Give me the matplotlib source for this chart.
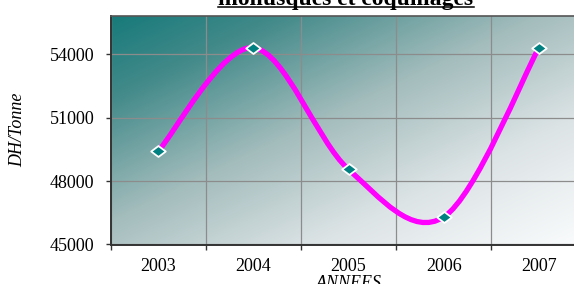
import matplotlib.pyplot as plt
import numpy as np
from matplotlib.colors import LinearSegmentedColormap
from matplotlib.lines import Line2D
from matplotlib.patches import PathPatch
from matplotlib.path import Path

annees = ['2003', '2004', '2005', '2006', '2007']
prix_tonne = [49400, 54300, 48550, 46300, 54300]
graduations_y = [45000, 48000, 51000, 54000]

plt.rcParams['font.family'] = ['Liberation Serif', 'DejaVu Serif']


def courbe_lissee(xs, ys):
    # lissage type Excel : segments de Bezier (Catmull-Rom)
    pts = [np.array(p, float) for p in zip(xs, ys)]
    pts = [pts[0]] + pts + [pts[-1]]
    verts = [tuple(pts[1])]
    codes = [Path.MOVETO]
    for i in range(1, len(pts) - 2):
        p0, p1, p2, p3 = pts[i - 1:i + 3]
        verts += [tuple(p1 + (p2 - p0) / 6), tuple(p2 - (p3 - p1) / 6), tuple(p2)]
        codes += [Path.CURVE4] * 3
    return Path(verts, codes)


fig = plt.figure(figsize=(5.74, 2.84), dpi=100)
ax = fig.add_axes([110.5 / 574, 39.5 / 284, 476 / 574, 228.5 / 284])

# fond en degrade diagonal
fond = LinearSegmentedColormap.from_list('fond', [
    (0.0, '#177a7a'), (0.18, '#438a8a'), (0.45, '#a3bcbc'),
    (0.72, '#dde4e6'), (1.0, '#fafcfd')])
gx, gy = np.meshgrid(np.linspace(0, 1, 400), np.linspace(0, 1, 200))
ax.imshow((gx + gy) / 2, cmap=fond, extent=(0, 1, 0, 1), transform=ax.transAxes,
          aspect='auto', origin='upper', zorder=0, interpolation='bilinear')

x = np.arange(len(annees))
ax.add_patch(PathPatch(courbe_lissee(x, prix_tonne), facecolor='none',
                       edgecolor='#ff00ff', lw=3.8, zorder=3, capstyle='round'))
losange = Path([(0, 0.75), (1, 0), (0, -0.75), (-1, 0), (0, 0.75)], closed=True)
ax.plot(x, prix_tonne, ls='none', marker=losange, ms=10.5, mfc='#008080',
        mec='white', mew=1.3, zorder=4)

ax.set_xlim(-0.5, 4.5)
ax.set_ylim(45000, 55800)
ax.set_xticks(np.arange(-0.5, 5, 1))
ax.set_xticklabels([])
ax.set_xticks(x, minor=True)
ax.set_xticklabels(annees, minor=True)
ax.set_yticks(graduations_y)
ax.set_yticklabels([str(v) for v in graduations_y])
ax.tick_params(axis='x', which='major', length=3.6, width=1, color='#333333')
ax.tick_params(axis='x', which='minor', length=0, pad=10, labelsize=13)
ax.tick_params(axis='y', length=3.6, width=1, color='#333333', pad=8, labelsize=13)

ax.set_axisbelow(True)
ax.grid(True, which='major', color='#8c8c8c', lw=0.9)
for cote in ['left', 'bottom']:
    ax.spines[cote].set_color('#333333')
    ax.spines[cote].set_linewidth(1.4)
ax.spines['top'].set_color('#555555')
ax.spines['top'].set_linewidth(1.2)

ax.set_ylabel('DH/Tonne', style='italic', fontsize=13)
ax.yaxis.set_label_coords(-0.178, 0.5)
ax.set_xlabel('ANNEES', style='italic', fontsize=13)
ax.xaxis.set_label_coords(0.5, -0.135)

titre = fig.text(346 / 574, 1 - 4.5 / 284, 'mollusques et coquillages', ha='center',
                 va='baseline', fontsize=17, fontweight='bold')
fig.canvas.draw()
bb = titre.get_window_extent()
y_soul = 1 - 6.5 / 284
fig.add_artist(Line2D([bb.x0 / 574, bb.x1 / 574], [y_soul, y_soul],
                      transform=fig.transFigure, color='black', lw=1.1))

fig.savefig('out.png', dpi=100)
